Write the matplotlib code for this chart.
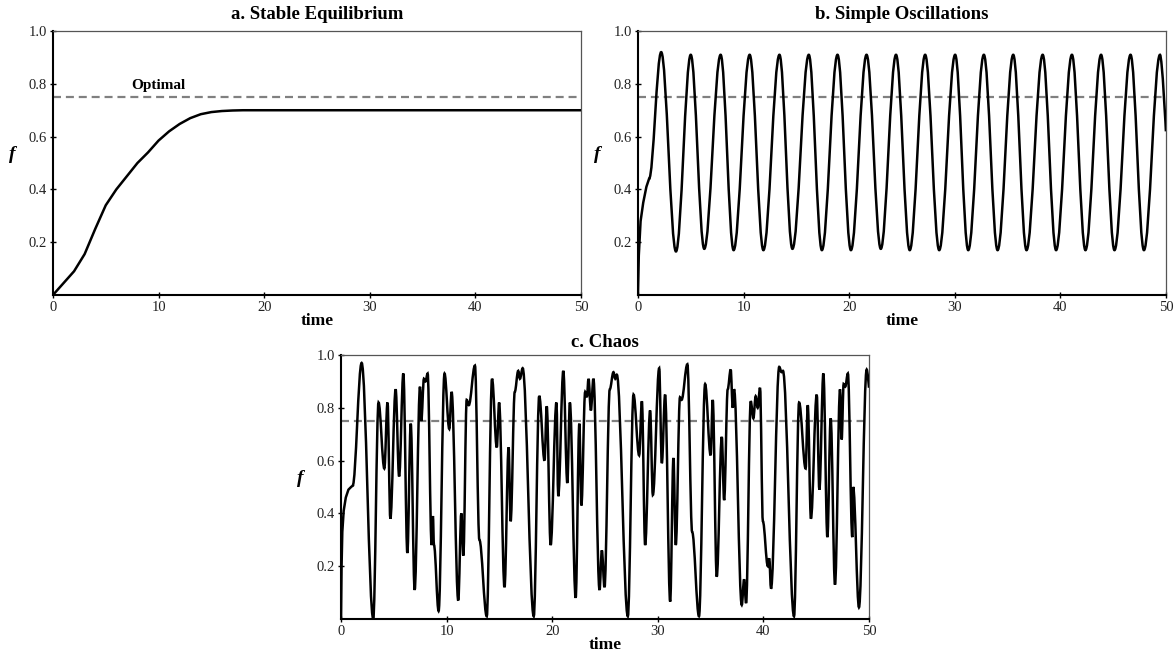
import matplotlib
matplotlib.use('Agg')
import matplotlib.pyplot as plt
from matplotlib.path import Path
from matplotlib.patches import PathPatch

plt.rcParams['font.family'] = ['Liberation Serif', 'DejaVu Serif']

optimal = 0.75

# a. stable equilibrium
eq_t = [0, 1, 2, 3, 4, 5, 6, 7, 8, 9, 10, 11, 12, 13, 14, 15, 16, 17, 18, 20, 50]
eq_f = [0, 0.045, 0.09, 0.155, 0.25, 0.34, 0.40, 0.45, 0.50, 0.54, 0.585, 0.62,
        0.648, 0.67, 0.685, 0.693, 0.697, 0.699, 0.70, 0.70, 0.70]

# b. simple oscillations (start transient, then peaks / troughs)
osc_start_t = [0, 0.08, 0.25, 0.5, 0.8, 1.05]
osc_start_f = [0, 0.15, 0.28, 0.35, 0.41, 0.44]
osc_peak_t = [2.2, 5.0, 7.83, 10.58, 13.4, 16.18, 18.9, 21.65, 24.44, 27.2, 30.04,
              32.76, 35.54, 38.33, 41.1, 43.86, 46.65, 49.44]
osc_peak_f = [0.92, 0.91, 0.91, 0.91, 0.91, 0.91, 0.91, 0.91, 0.91, 0.91, 0.91,
              0.91, 0.91, 0.91, 0.91, 0.91, 0.91, 0.91]
osc_trough_t = [3.6, 6.28, 9.06, 11.88, 14.63, 17.42, 20.17, 23.0, 25.74, 28.53,
                31.28, 34.06, 36.8, 39.6, 42.38, 45.13, 47.92]
osc_trough_f = [0.165, 0.175, 0.17, 0.17, 0.175, 0.17, 0.17, 0.175, 0.17, 0.17,
                0.17, 0.17, 0.17, 0.17, 0.17, 0.17, 0.17]
osc_end = (50, 0.62)

# c. chaos (start transient, then turning points)
chaos_start_t = [0, 0.05, 0.12, 0.25, 0.45, 0.7, 0.95, 1.1]
chaos_start_f = [0, 0.2, 0.33, 0.41, 0.46, 0.49, 0.50, 0.505]
chaos_t = [1.1, 1.95, 3.05, 3.55, 4.1, 4.4, 4.67, 5.17, 5.5, 5.9, 6.28, 6.6, 6.97,
           7.48, 7.6, 7.85, 8.0, 8.2, 8.58, 8.7, 8.8, 9.24, 9.8, 10.25, 10.47,
           11.1, 11.39, 11.58, 11.9, 12.1, 12.68, 13.1, 13.8, 14.3, 14.75, 14.97,
           15.48, 15.87, 16.06, 16.45, 16.78, 16.94, 17.2, 18.25, 18.77, 19.27,
           19.48, 19.85, 20.4, 20.57, 21.05, 21.43, 21.67, 22.22, 22.57, 22.76,
           23.12, 23.28, 23.44, 23.66, 23.9, 24.48, 24.7, 24.95, 25.45, 25.8,
           25.97, 26.12, 27.16, 27.7, 28.23, 28.49, 28.8, 29.27, 29.53, 30.13,
           30.38, 30.69, 31.17, 31.48, 31.7, 32.1, 32.25, 32.8, 33.25, 33.9,
           34.48, 35.0, 35.2, 35.58, 36.06, 36.28, 36.62, 36.9, 37.1, 37.22,
           37.95, 38.17, 38.36, 38.8, 39.05, 39.27, 39.46, 39.68, 39.95, 40.42,
           40.55, 40.72, 41.5, 41.72, 41.85, 42.9, 43.38, 44.0, 44.2, 44.5,
           45.05, 45.3, 45.68, 46.06, 46.37, 46.78, 47.26, 47.41, 47.6, 47.75,
           48.0, 48.42, 48.5, 49.05, 49.78]
chaos_f = [0.505, 0.97, 0.0, 0.82, 0.57, 0.82, 0.38, 0.87, 0.54, 0.93, 0.25, 0.74,
           0.11, 0.88, 0.75, 0.91, 0.90, 0.93, 0.28, 0.39, 0.28, 0.03, 0.93, 0.72,
           0.86, 0.07, 0.40, 0.24, 0.83, 0.81, 0.96, 0.30, 0.01, 0.91, 0.65, 0.82,
           0.12, 0.65, 0.37, 0.86, 0.94, 0.91, 0.95, 0.01, 0.845, 0.60, 0.806,
           0.28, 0.82, 0.465, 0.94, 0.515, 0.82, 0.08, 0.74, 0.43, 0.86, 0.84,
           0.91, 0.79, 0.91, 0.11, 0.26, 0.12, 0.87, 0.935, 0.91, 0.925, 0.01,
           0.85, 0.62, 0.825, 0.28, 0.79, 0.47, 0.95, 0.59, 0.85, 0.066, 0.61,
           0.28, 0.84, 0.83, 0.965, 0.33, 0.01, 0.89, 0.62, 0.83, 0.16, 0.69,
           0.45, 0.87, 0.945, 0.80, 0.87, 0.053, 0.15, 0.06, 0.825, 0.76, 0.844,
           0.80, 0.876, 0.37, 0.20, 0.23, 0.115, 0.955, 0.935, 0.94, 0.01, 0.82,
           0.57, 0.81, 0.38, 0.85, 0.49, 0.93, 0.31, 0.76, 0.13, 0.87, 0.68,
           0.89, 0.88, 0.93, 0.31, 0.50, 0.044, 0.945]
chaos_end = (50, 0.876)


def smooth_path(ts, fs, end=None, k=0.36):
    # cubic segments with flat tangents at each turning point
    verts = [(ts[0], fs[0])]
    codes = [Path.MOVETO]
    for i in range(1, len(ts)):
        t0, f0, t1, f1 = ts[i - 1], fs[i - 1], ts[i], fs[i]
        dt = t1 - t0
        verts += [(t0 + k * dt, f0), (t1 - k * dt, f1), (t1, f1)]
        codes += [Path.CURVE4] * 3
    if end is not None:
        t0, f0 = ts[-1], fs[-1]
        dt = end[0] - t0
        verts += [(t0 + k * dt, f0), end, end]
        codes += [Path.CURVE4] * 3
    return Path(verts, codes)


def style_axes(ax, title, title_pad):
    ax.set_xlim(0, 50)
    ax.set_ylim(0, 1)
    ax.set_xticks([0, 10, 20, 30, 40, 50])
    ax.set_yticks([0.2, 0.4, 0.6, 0.8, 1.0])
    ax.set_yticklabels(['0.2', '0.4', '0.6', '0.8', '1.0'])
    ax.tick_params(direction='inout', length=5, width=1, labelsize=10.5,
                   labelcolor='#222222', pad=2)
    for side in ['left', 'bottom']:
        ax.spines[side].set_linewidth(1.5)
        ax.spines[side].set_color('black')
    for side in ['top', 'right']:
        ax.spines[side].set_linewidth(0.9)
        ax.spines[side].set_color('#555555')
    ax.set_title(title, fontsize=13.5, fontweight='bold', pad=title_pad)
    ax.set_xlabel('time', fontsize=12.5, fontweight='bold')
    ax.xaxis.set_label_coords(0.5, -0.068)
    ax.set_ylabel('f', fontsize=14, fontstyle='italic', fontweight='bold', rotation=0)
    ax.yaxis.set_label_coords(-0.077, 0.5)
    ax.axhline(optimal, color='#808080', lw=1.6, dashes=(3.6, 2.2), zorder=1)


fig = plt.figure(figsize=(11.74, 6.55), dpi=100)
ax_a = fig.add_axes([0.0451, 0.5496, 0.4497, 0.403])
ax_b = fig.add_axes([0.5434, 0.5496, 0.4497, 0.403])
ax_c = fig.add_axes([0.2905, 0.055, 0.4497, 0.403])

# a
style_axes(ax_a, 'a. Stable Equilibrium', 9)
ax_a.plot(eq_t, eq_f, color='black', lw=1.8, zorder=3)
ax_a.text(10, 0.795, 'Optimal', ha='center', va='center', fontsize=11, fontweight='bold')

# b
style_axes(ax_b, 'b. Simple Oscillations', 9)
ax_b.plot(osc_start_t, osc_start_f, color='black', lw=1.8, zorder=3)
ext = sorted(list(zip(osc_peak_t, osc_peak_f)) + list(zip(osc_trough_t, osc_trough_f)))
ext_t = [osc_start_t[-1]] + [e[0] for e in ext]
ext_f = [osc_start_f[-1]] + [e[1] for e in ext]
ax_b.add_patch(PathPatch(smooth_path(ext_t, ext_f, end=osc_end), fill=False,
                         ec='black', lw=1.8, zorder=3))

# c
style_axes(ax_c, 'c. Chaos', 6)
ax_c.plot(chaos_start_t, chaos_start_f, color='black', lw=1.8, zorder=3)
ax_c.add_patch(PathPatch(smooth_path(chaos_t, chaos_f, end=chaos_end), fill=False,
                         ec='black', lw=1.8, zorder=3))

fig.savefig('out.png', dpi=100)
